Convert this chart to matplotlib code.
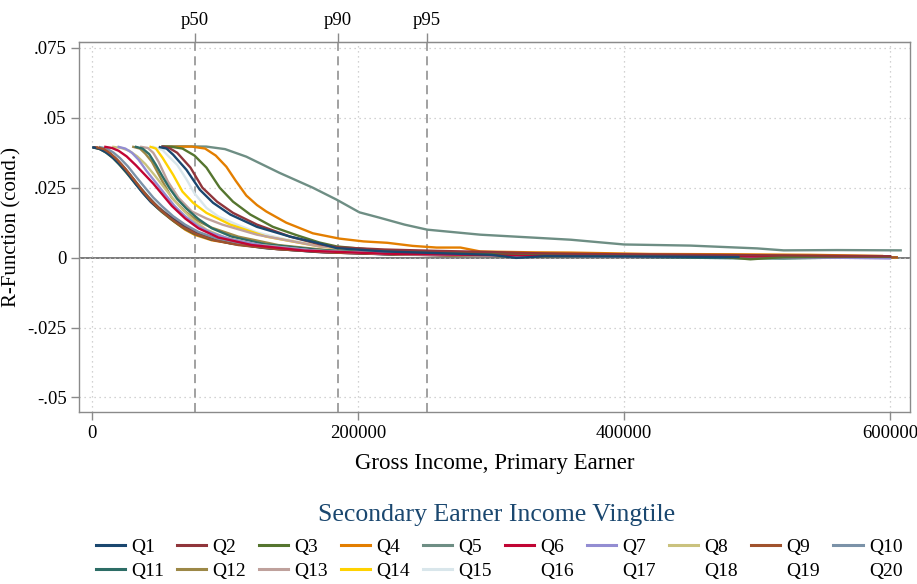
import matplotlib
matplotlib.use("Agg")
import matplotlib.pyplot as plt
from matplotlib.lines import Line2D

plt.rcParams['font.family'] = ['Liberation Serif', 'DejaVu Serif']

# Conditional R-function by secondary earner income vingtile
labels = [f"Q{i}" for i in range(1, 21)]

colors = ["#1a476f", "#90353b", "#55752f", "#e37e00", "#6e8e84",
          "#c10534", "#938dd2", "#cac27e", "#a0522d", "#7b92a8",
          "#2d6d66", "#9c8847", "#bfa19c", "#ffd200", "#d9e6eb",
          "#1a476f", "#90353b", "#55752f", "#e37e00", "#6e8e84"]

q1_x = [51000, 56000, 61000, 71000, 81000, 91000, 104000, 124000, 149000, 170000, 184000, 220000, 260000, 300000, 319000, 340000, 400000, 450000, 486000]
q1_y = [0.0395, 0.0390, 0.0368, 0.0314, 0.0243, 0.0196, 0.0154, 0.0110, 0.0075, 0.0052, 0.0034, 0.0022, 0.0016, 0.0010, -0.0001, 0.0005, 0.0004, 0.0003, 0.0002]

q2_x = [53000, 58000, 64000, 74000, 83000, 94000, 106000, 124000, 149000, 171000, 184000, 220000, 260000, 292000, 340000, 400000, 460000, 520000, 600000]
q2_y = [0.0397, 0.0392, 0.0375, 0.0322, 0.0250, 0.0200, 0.0160, 0.0118, 0.0075, 0.0048, 0.0037, 0.0029, 0.0024, 0.0021, 0.0015, 0.0012, 0.0010, 0.0008, 0.0005]

q3_x = [54000, 60000, 68000, 77000, 86000, 96000, 106000, 119000, 136000, 154000, 171000, 184000, 216000, 260000, 300000, 360000, 420000, 470000, 495000, 520000, 560000, 600000]
q3_y = [0.0397, 0.0396, 0.0390, 0.0365, 0.0322, 0.0250, 0.0200, 0.0154, 0.0110, 0.0080, 0.0054, 0.0040, 0.0026, 0.0020, 0.0016, 0.0012, 0.0008, 0.0004, -0.0006, 0.0002, 0.0004, 0.0003]

q4_x = [55000, 75000, 85000, 93000, 101000, 108000, 116000, 124000, 131000, 146000, 166000, 186000, 204000, 222000, 241000, 259000, 277000, 292000, 330000, 360000, 420000, 480000, 540000, 594000]
q4_y = [0.0396, 0.0397, 0.0390, 0.0365, 0.0325, 0.0275, 0.0222, 0.0188, 0.0165, 0.0125, 0.0087, 0.0068, 0.0058, 0.0053, 0.0042, 0.0036, 0.0036, 0.0022, 0.0019, 0.0018, 0.0013, 0.0012, 0.0010, 0.0006]

q5_x = [53000, 70000, 86000, 100000, 116000, 141000, 166000, 184000, 201000, 216000, 235000, 252000, 292000, 330000, 360000, 400000, 450000, 500000, 520000, 560000, 608000]
q5_y = [0.0398, 0.0398, 0.0397, 0.0388, 0.0361, 0.0303, 0.0250, 0.0207, 0.0162, 0.0143, 0.0118, 0.0100, 0.0082, 0.0072, 0.0064, 0.0047, 0.0043, 0.0033, 0.0026, 0.0027, 0.0026]

q6_x = [10000, 15000, 20000, 26000, 33000, 40000, 46000, 53000, 60000, 70000, 80000, 95000, 120000, 160000, 220000, 300000, 400000, 500000, 600000]
q6_y = [0.0396, 0.0392, 0.0382, 0.0362, 0.0330, 0.0295, 0.0265, 0.0225, 0.0185, 0.0140, 0.0105, 0.0072, 0.0045, 0.0025, 0.0014, 0.0009, 0.0006, 0.0004, 0.0003]

q7_x = [20000, 25000, 30000, 35000, 41000, 48000, 55000, 62000, 70000, 80000, 90000, 105000, 130000, 170000, 230000, 300000, 380000, 460000, 540000, 600000]
q7_y = [0.0396, 0.0390, 0.0375, 0.0350, 0.0310, 0.0268, 0.0226, 0.0185, 0.0148, 0.0112, 0.0088, 0.0065, 0.0042, 0.0024, 0.0013, 0.0008, 0.0005, 0.0003, 0.0001, -0.0003]

q8_x = [16000, 22000, 28000, 34000, 40000, 47000, 54000, 61000, 68000, 76000, 86000, 100000, 125000, 165000, 220000, 290000, 380000, 470000, 560000]
q8_y = [0.0396, 0.0392, 0.0382, 0.0362, 0.0335, 0.0295, 0.0252, 0.0210, 0.0172, 0.0135, 0.0100, 0.0072, 0.0046, 0.0026, 0.0014, 0.0008, 0.0005, 0.0003, 0.0002]

q9_x = [4000, 9000, 14000, 19000, 25000, 31000, 37000, 44000, 51000, 59000, 68000, 78000, 92000, 110000, 140000, 180000, 240000, 320000, 420000, 520000, 605000]
q9_y = [0.0394, 0.0388, 0.0372, 0.0350, 0.0318, 0.0282, 0.0245, 0.0205, 0.0172, 0.0140, 0.0110, 0.0085, 0.0062, 0.0045, 0.0030, 0.0018, 0.0010, 0.0006, 0.0004, 0.0002, 0.0001]

q10_x = [6000, 11000, 16000, 21000, 27000, 33000, 39000, 46000, 53000, 61000, 70000, 80000, 94000, 112000, 140000, 180000, 240000, 320000, 420000, 520000, 600000]
q10_y = [0.0395, 0.0390, 0.0376, 0.0356, 0.0326, 0.0290, 0.0255, 0.0215, 0.0182, 0.0148, 0.0118, 0.0092, 0.0068, 0.0050, 0.0034, 0.0021, 0.0012, 0.0007, 0.0004, 0.0002, 0.0001]

q11_x = [33000, 38000, 43000, 48000, 53000, 58000, 64000, 71000, 80000, 90000, 105000, 130000, 170000, 220000, 300000, 400000, 480000, 520000, 560000]
q11_y = [0.0396, 0.0390, 0.0370, 0.0332, 0.0290, 0.0250, 0.0210, 0.0175, 0.0138, 0.0105, 0.0075, 0.0048, 0.0028, 0.0015, 0.0007, 0.0003, -0.0002, -0.0003, 0.0000]

q12_x = [31000, 36000, 40000, 45000, 53000, 60000, 70000, 80000, 90000, 110000, 140000, 180000, 230000, 300000, 380000, 460000, 540000]
q12_y = [0.0396, 0.0390, 0.0372, 0.0343, 0.0272, 0.0214, 0.0165, 0.0130, 0.0107, 0.0075, 0.0045, 0.0025, 0.0012, 0.0006, 0.0004, 0.0002, 0.0001]

q13_x = [37000, 42000, 46000, 50000, 57000, 65000, 75000, 86000, 98000, 124000, 171000, 220000, 280000, 350000, 430000, 500000, 560000]
q13_y = [0.0396, 0.0392, 0.0375, 0.0343, 0.0272, 0.0214, 0.0165, 0.0140, 0.0118, 0.0082, 0.0040, 0.0020, 0.0010, 0.0006, 0.0004, 0.0002, 0.0001]

q14_x = [44000, 48000, 53000, 61000, 68000, 76000, 86000, 104000, 131000, 171000, 210000, 260000, 320000, 400000, 480000, 560000, 605000]
q14_y = [0.0396, 0.0390, 0.0357, 0.0296, 0.0236, 0.0196, 0.0160, 0.0118, 0.0075, 0.0040, 0.0020, 0.0010, 0.0005, 0.0004, 0.0002, 0.0003, 0.0001]

q15_x = [46000, 53000, 58000, 64000, 71000, 77000, 86000, 95000, 109000, 124000, 146000, 171000, 210000, 260000, 320000, 400000, 480000, 560000]
q15_y = [0.0396, 0.0385, 0.0360, 0.0332, 0.0280, 0.0230, 0.0178, 0.0147, 0.0118, 0.0090, 0.0065, 0.0046, 0.0025, 0.0012, 0.0008, 0.0005, 0.0003, 0.0002]

q16_x = [1000, 5000, 10000, 15000, 20000, 26000, 32000, 38000, 44000, 50000, 57000, 65000, 75000, 88000, 105000, 130000, 170000, 220000, 300000, 400000, 500000, 600000]
q16_y = [0.0394, 0.0390, 0.0378, 0.0360, 0.0337, 0.0305, 0.0268, 0.0232, 0.0200, 0.0175, 0.0150, 0.0122, 0.0092, 0.0068, 0.0050, 0.0034, 0.0020, 0.0012, 0.0006, 0.0003, 0.0002, 0.0001]

q17_x = [2000, 7000, 12000, 17000, 22000, 28000, 34000, 40000, 47000, 54000, 62000, 70000, 80000, 93000, 110000, 135000, 175000, 230000, 310000, 410000, 510000, 605000]
q17_y = [0.0394, 0.0389, 0.0376, 0.0358, 0.0334, 0.0300, 0.0262, 0.0228, 0.0192, 0.0162, 0.0135, 0.0112, 0.0088, 0.0066, 0.0048, 0.0032, 0.0019, 0.0011, 0.0006, 0.0004, 0.0002, 0.0001]

q18_x = [1500, 6000, 11000, 16000, 21000, 27000, 33000, 39000, 45000, 52000, 60000, 68000, 77000, 90000, 106000, 134000, 170000, 220000, 300000, 400000, 500000, 600000]
q18_y = [0.0393, 0.0388, 0.0374, 0.0355, 0.0330, 0.0297, 0.0262, 0.0228, 0.0196, 0.0165, 0.0135, 0.0108, 0.0085, 0.0064, 0.0055, 0.0038, 0.0025, 0.0015, 0.0008, 0.0005, 0.0003, 0.0002]

q19_x = [3000, 8000, 13000, 18000, 23000, 29000, 35000, 41000, 47000, 54000, 62000, 70000, 77000, 90000, 106000, 134000, 170000, 220000, 300000, 400000, 500000, 600000]
q19_y = [0.0393, 0.0387, 0.0372, 0.0352, 0.0326, 0.0292, 0.0256, 0.0220, 0.0190, 0.0160, 0.0128, 0.0100, 0.0082, 0.0062, 0.0050, 0.0034, 0.0022, 0.0013, 0.0007, 0.0004, 0.0002, 0.0001]

q20_x = [1000, 5000, 10000, 15000, 20000, 25000, 31000, 37000, 43000, 50000, 58000, 66000, 75000, 88000, 104000, 130000, 170000, 220000, 300000, 400000, 500000, 600000]
q20_y = [0.0394, 0.0391, 0.0380, 0.0364, 0.0342, 0.0316, 0.0282, 0.0247, 0.0214, 0.0180, 0.0150, 0.0122, 0.0096, 0.0072, 0.0054, 0.0037, 0.0023, 0.0014, 0.0008, 0.0005, 0.0003, 0.0002]

series_x = [q1_x, q2_x, q3_x, q4_x, q5_x, q6_x, q7_x, q8_x, q9_x, q10_x,
            q11_x, q12_x, q13_x, q14_x, q15_x, q16_x, q17_x, q18_x, q19_x, q20_x]
series_y = [q1_y, q2_y, q3_y, q4_y, q5_y, q6_y, q7_y, q8_y, q9_y, q10_y,
            q11_y, q12_y, q13_y, q14_y, q15_y, q16_y, q17_y, q18_y, q19_y, q20_y]

# Percentiles of primary earner gross income
pct_labels = ["p50", "p90", "p95"]
pct_values = [77500, 185000, 252000]

y_ticks = [-0.05, -0.025, 0, 0.025, 0.05, 0.075]
y_ticklabels = ["-.05", "-.025", "0", ".025", ".05", ".075"]
x_ticks = [0, 200000, 400000, 600000]
x_ticklabels = ["0", "200000", "400000", "600000"]

W, H = 917, 584
fig = plt.figure(figsize=(W / 100, H / 100), dpi=100)
ax = fig.add_axes([79 / W, (H - 412) / H, (910 - 79) / W, (412 - 42) / H])

frame_col = "#8a8a8a"
ax.set_xlim(-9800, 615000)
ax.set_ylim(-0.0552, 0.0771)

ax.grid(True, color="#c4c4c4", linestyle=(0, (1, 3)), linewidth=0.9)
ax.axhline(0, color="#6e6e6e", linewidth=1.3, zorder=1.5)
for v in pct_values:
    ax.axvline(v, color="#9a9a9a", linestyle=(0, (5, 3)), linewidth=1.3, zorder=1.6)

handles = []
for i in range(20):
    ax.plot(series_x[i], series_y[i], color=colors[i], linewidth=1.7,
            solid_joinstyle="round", zorder=2 + (19 - i) * 0.01)
    if i < 15:
        handles.append(Line2D([], [], color=colors[i], linewidth=2.2))
    else:
        handles.append(Line2D([], [], color="none", linewidth=2.2))

for s in ax.spines.values():
    s.set_color(frame_col)
    s.set_linewidth(1.0)

ax.set_yticks(y_ticks)
ax.set_yticklabels(y_ticklabels)
ax.set_xticks(x_ticks)
ax.set_xticklabels(x_ticklabels)
ax.tick_params(axis="both", direction="out", length=5.5, width=1.0,
               color=frame_col, labelsize=13.5, labelcolor="#000000", pad=3.5)

sec = ax.secondary_xaxis("top")
sec.set_xticks(pct_values)
sec.set_xticklabels(pct_labels)
sec.tick_params(direction="out", length=6.5, width=1.0, color=frame_col,
                labelsize=13.5, pad=3)
sec.spines["top"].set_color(frame_col)

ax.set_xlabel("Gross Income, Primary Earner", fontsize=16.5, labelpad=8)
ax.set_ylabel("R-Function (cond.)", fontsize=15, labelpad=4)

fig.text(497 / W, 1 - 515 / H, "Secondary Earner Income Vingtile",
         ha="center", va="center", fontsize=18.5, color="#1a476f")

# legend filled row by row (matplotlib fills column-wise)
order = []
for c in range(10):
    order += [c, c + 10]
fig.legend([handles[k] for k in order], [labels[k] for k in order],
           ncol=10, loc="center", bbox_to_anchor=(499 / W, 1 - 559 / H),
           frameon=False, fontsize=14, handlelength=1.5, handletextpad=0.32,
           columnspacing=0.67, labelspacing=0.3, borderaxespad=0)

fig.savefig("out.png", dpi=100)
